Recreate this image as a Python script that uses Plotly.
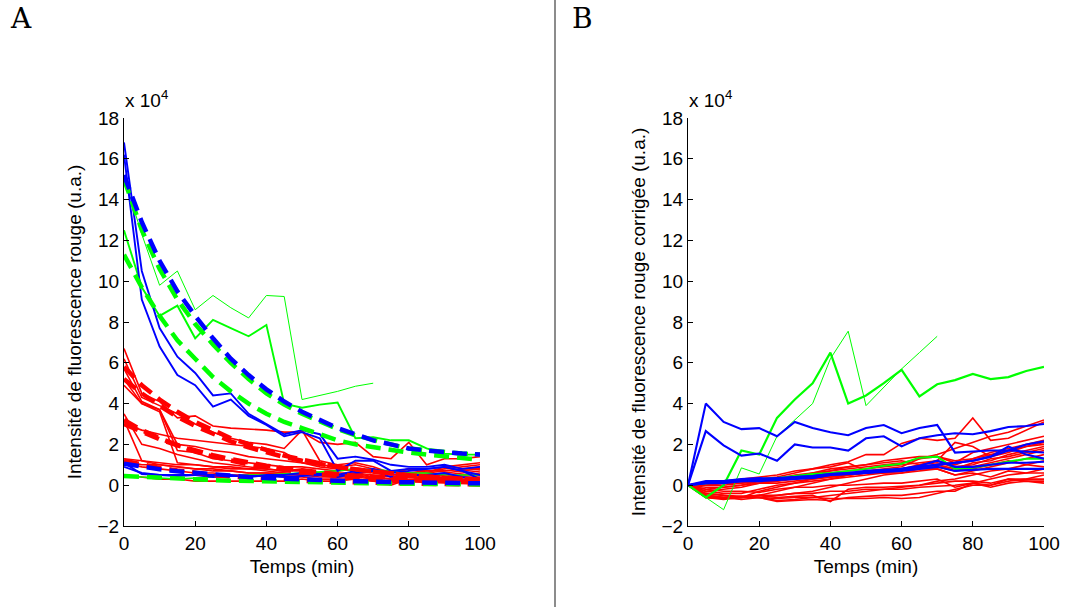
import plotly.graph_objects as go

t = [0, 5, 10, 15, 20, 25, 30, 35, 40, 45, 50, 55, 60, 65, 70, 75, 80, 85, 90, 95, 100]
t70 = t[:15]

# ---------------- Panel A (values in units of 1e4) ----------------
A_green_thin = [15.1, 12.3, 9.8, 10.5, 8.6, 9.3, 8.7, 8.2, 9.3, 9.25, 4.2, 4.4, 4.6, 4.85, 5.0]
A_green_thick = [12.5, 9.7, 8.3, 8.8, 7.2, 8.1, 7.7, 7.3, 7.85, 4.0, 3.8, 3.95, 4.05, 2.3, 2.35, 2.2, 2.2, 1.8, 1.55, 1.5, 1.5]
A_green_low = [0.5, 0.4, 0.35, 0.3, 0.35, 0.4, 0.45, 0.5, 0.5, 0.55, 0.6, 0.65, 0.7, 0.8, 0.75, 0.7, 0.6, 0.6, 0.5, 0.5, 0.5]

A_blue = [
    [16.8, 10.5, 7.7, 6.3, 5.5, 4.4, 4.5, 3.5, 3.0, 2.5, 2.7, 2.5, 1.3, 1.4, 1.25, 1.0, 0.9, 0.9, 1.0, 0.8, 0.9],
    [16.2, 9.1, 6.8, 5.4, 4.9, 3.85, 4.2, 3.4, 2.95, 2.4, 2.6, 2.3, 0.7, 1.2, 1.2, 0.7, 0.8, 0.8, 0.9, 0.7, 0.3],
    [1.1, 0.55, 0.5, 0.5, 0.5, 0.4, 0.45, 0.45, 0.45, 0.4, 0.45, 0.5, 0.4, 0.6, 0.7, 0.4, 0.5, 0.5, 0.6, 0.4, 0.3],
    [0.9, 0.6, 0.5, 0.45, 0.5, 0.5, 0.5, 0.4, 0.5, 0.5, 0.6, 0.55, 0.5, 0.7, 0.8, 0.6, 0.7, 0.8, 0.9, 0.7, 0.5],
]

A_red = [
    [6.7, 4.5, 4.1, 3.3, 3.4, 2.9, 2.8, 2.75, 2.7, 2.6, 2.6, 2.1, 2.0, 2.1, 1.4, 1.3, 2.1, 1.0, 1.3, 1.3, 1.4],
    [6.2, 4.3, 3.9, 3.5, 3.0, 2.6, 2.3, 2.1, 2.0, 1.8, 2.7, 1.2, 1.0, 1.1, 0.9, 0.6, 0.8, 0.6, 0.9, 1.0, 1.1],
    [5.7, 4.1, 3.7, 1.7, 1.6, 1.3, 1.2, 1.1, 1.0, 0.9, 0.9, 0.8, 0.7, 0.8, 0.7, 0.5, 0.6, 0.7, 0.7, 0.8, 0.9],
    [5.2, 4.0, 3.6, 1.1, 1.0, 0.9, 0.8, 0.8, 0.7, 0.6, 0.5, 0.5, 0.5, 0.6, 0.4, 0.3, 0.5, 0.4, 0.4, 0.5, 0.6],
    [4.9, 4.0, 3.7, 2.0, 1.9, 1.7, 1.6, 1.4, 1.3, 1.2, 1.1, 1.0, 0.9, 1.0, 0.8, 0.6, 0.8, 0.7, 0.8, 0.9, 1.0],
    [3.5, 2.0, 1.8, 1.5, 1.3, 1.1, 1.0, 0.9, 0.8, 0.7, 0.8, 0.6, 0.5, 0.5, 0.4, 0.3, 0.5, 0.4, 0.5, 0.6, 0.7],
    [3.2, 1.2, 1.0, 0.9, 0.8, 0.8, 0.7, 0.6, 0.6, 0.5, 0.5, 0.4, 0.4, 0.5, 0.3, 0.2, 0.4, 0.3, 0.4, 0.5, 0.5],
    [3.0, 2.7, 2.5, 2.3, 2.2, 2.1, 2.0, 1.9, 1.8, 1.6, 1.1, 0.9, 0.8, 0.7, 0.6, 0.5, 0.6, 0.6, 0.7, 0.8, 0.8],
    [1.3, 1.2, 1.1, 1.0, 1.0, 0.9, 0.9, 0.8, 0.8, 0.7, 0.7, 0.6, 0.6, 0.6, 0.5, 0.4, 0.5, 0.5, 0.6, 0.7, 0.8],
    [1.2, 1.0, 1.0, 0.9, 0.8, 0.7, 0.7, 0.6, 0.6, 0.6, 0.5, 0.5, 0.4, 0.4, 0.3, 0.0, 0.3, 0.3, 0.3, 0.4, 0.4],
    [1.1, 0.9, 0.8, 0.7, 0.6, 0.6, 0.5, 0.5, 0.5, 0.4, 0.4, 0.3, 0.3, 0.3, 0.2, 0.2, 0.2, 0.2, 0.2, 0.2, 0.1],
    [0.5, 0.4, 0.3, 0.3, 0.2, 0.2, 0.2, 0.2, 0.2, 0.2, 0.3, 0.2, 0.2, 0.3, 0.2, 0.1, 0.2, 0.2, 0.3, 0.3, 0.3],
]

A_red_fit = [
    [5.8, 4.9, 4.2, 3.6, 3.1, 2.7, 2.3, 2.0, 1.7, 1.45, 1.25, 1.05, 0.9, 0.78, 0.66, 0.57, 0.49, 0.42, 0.36, 0.31, 0.27],
    [5.2, 4.5, 3.9, 3.35, 2.9, 2.5, 2.15, 1.85, 1.6, 1.38, 1.2, 1.03, 0.89, 0.77, 0.66, 0.57, 0.49, 0.42, 0.36, 0.31, 0.27],
    [3.2, 2.7, 2.3, 1.95, 1.65, 1.4, 1.2, 1.02, 0.87, 0.74, 0.63, 0.53, 0.45, 0.38, 0.33, 0.28, 0.24, 0.2, 0.17, 0.15, 0.12],
    [3.0, 2.6, 2.25, 1.95, 1.7, 1.47, 1.28, 1.1, 0.96, 0.83, 0.72, 0.62, 0.54, 0.47, 0.41, 0.35, 0.31, 0.27, 0.23, 0.2, 0.17],
    [1.2, 1.0, 0.85, 0.72, 0.6, 0.5, 0.42, 0.36, 0.3, 0.25, 0.21, 0.18, 0.15, 0.13, 0.11, 0.09, 0.08, 0.07, 0.06, 0.05, 0.04],
]
A_green_fit = [
    [15.0, 12.5, 10.6, 9.1, 7.9, 6.9, 6.0, 5.2, 4.5, 3.95, 3.5, 3.1, 2.75, 2.45, 2.2, 2.0, 1.8, 1.7, 1.6, 1.55, 1.5],
    [11.3, 9.7, 8.3, 7.1, 6.2, 5.3, 4.6, 4.0, 3.5, 3.1, 2.8, 2.5, 2.2, 2.0, 1.85, 1.7, 1.6, 1.5, 1.4, 1.3, 1.25],
    [0.45, 0.4, 0.35, 0.31, 0.28, 0.25, 0.22, 0.2, 0.17, 0.15, 0.14, 0.12, 0.11, 0.1, 0.09, 0.08, 0.07, 0.06, 0.05, 0.05, 0.04],
]
A_blue_fit = [
    [15.2, 12.9, 11.0, 9.5, 8.3, 7.2, 6.2, 5.4, 4.7, 4.1, 3.6, 3.2, 2.8, 2.5, 2.2, 2.0, 1.8, 1.7, 1.6, 1.55, 1.5],
    [1.05, 0.9, 0.78, 0.68, 0.6, 0.52, 0.46, 0.4, 0.35, 0.31, 0.27, 0.24, 0.21, 0.19, 0.17, 0.15, 0.14, 0.12, 0.11, 0.1, 0.09],
]

# ---------------- Panel B (corrected, units of 1e4) ----------------
B_green_thin = [0, -0.6, -1.2, 0.85, 0.55, 2.4, 3.2, 4.0, 6.2, 7.55, 3.9, 4.8, 5.7, 6.5, 7.3]
B_green_thick = [0, -0.6, 0.0, 1.7, 1.5, 3.3, 4.2, 5.0, 6.5, 4.0, 4.4, 5.0, 5.65, 4.35, 4.95, 5.15, 5.45, 5.2, 5.3, 5.6, 5.8]
B_green_low = [0, 0.1, 0.15, 0.2, 0.3, 0.35, 0.45, 0.55, 0.6, 0.7, 0.8, 0.95, 1.05, 1.35, 1.4, 0.8, 0.85, 1.0, 1.15, 1.3, 1.3]

B_blue = [
    [0, 4.0, 3.1, 2.75, 2.8, 2.4, 3.1, 2.8, 2.6, 2.45, 2.8, 2.95, 2.55, 2.8, 2.95, 1.6, 1.65, 1.7, 1.7, 1.65, 1.6],
    [0, 2.65, 1.95, 1.45, 1.55, 1.2, 2.0, 1.85, 1.85, 1.7, 2.3, 2.4, 1.9, 2.3, 2.45, 2.55, 2.5, 2.65, 2.85, 2.9, 3.0],
    [0, 0.2, 0.2, 0.25, 0.3, 0.35, 0.4, 0.45, 0.55, 0.6, 0.7, 0.75, 0.8, 0.95, 1.2, 0.9, 0.9, 1.0, 1.1, 1.1, 1.15],
    [0, 0.15, 0.2, 0.3, 0.35, 0.3, 0.4, 0.35, 0.5, 0.55, 0.6, 0.7, 0.75, 0.9, 1.0, 1.1, 1.2, 1.4, 1.9, 1.5, 1.3],
    [0, 0.1, 0.15, 0.2, 0.25, 0.3, 0.4, 0.45, 0.55, 0.6, 0.65, 0.7, 0.8, 0.9, 1.0, 1.1, 1.2, 1.4, 1.7, 2.0, 2.15],
    [0, 0.1, 0.1, 0.2, 0.2, 0.25, 0.3, 0.35, 0.5, 0.55, 0.6, 0.65, 0.7, 0.8, 0.9, 0.7, 0.75, 0.8, 0.8, 0.8, 0.8],
]

B_red = [
    [0, 0.1, 0.2, 0.3, 0.4, 0.5, 0.7, 0.8, 1.0, 1.15, 1.5, 1.5, 2.05, 2.3, 2.2, 2.3, 3.3, 2.2, 2.3, 2.7, 3.1],
    [0, 0.0, 0.1, 0.2, 0.3, 0.4, 0.6, 0.8, 0.9, 1.1, 0.7, 0.8, 0.9, 1.3, 1.5, 1.8, 2.1, 2.4, 2.6, 2.9, 3.2],
    [0, -0.2, -0.1, 0.0, 0.2, 0.3, 0.5, 0.6, 0.7, 0.8, 0.9, 1.0, 1.1, 1.3, 1.4, 1.1, 1.6, 1.8, 2.0, 2.2, 2.4],
    [0, -0.3, -0.2, -0.1, 0.1, 0.2, 0.4, 0.5, 0.6, 0.7, 0.8, 0.9, 1.0, 1.1, 1.2, 1.0, 1.3, 1.5, 1.7, 1.9, 2.1],
    [0, -0.4, -0.5, -0.6, -0.3, -0.1, 0.1, 0.3, 0.4, 0.5, 0.6, 0.7, 0.8, 0.9, 1.0, 0.8, 1.1, 1.2, 1.5, 1.7, 1.9],
    [0, -0.5, -0.6, -0.6, -0.5, -0.3, -0.1, 0.1, 0.3, 0.5, 0.6, 0.7, 0.75, 0.85, 0.9, 0.7, 0.9, 1.1, 1.3, 1.5, 1.7],
    [0, -0.6, -0.6, -0.55, -0.6, -0.5, -0.4, -0.3, -0.1, 0.1, 0.3, 0.5, 0.6, 0.7, 0.8, 0.5, 0.7, 0.9, 1.1, 1.3, 1.5],
    [0, -0.5, -0.6, -0.6, -0.6, -0.75, -0.7, -0.6, -0.5, -0.4, -0.3, -0.2, -0.1, 0.0, 0.2, 0.3, 0.5, 0.7, 0.8, 1.0, 1.2],
    [0, -0.6, -0.65, -0.6, -0.6, -0.8, -0.75, -0.7, -0.75, -0.6, -0.55, -0.5, -0.5, -0.4, -0.3, -0.3, 0.1, 0.3, 0.5, 0.6, 0.8],
    [0, -0.5, -0.6, -0.7, -0.6, -0.65, -0.6, -0.6, -0.65, -0.65, -0.65, -0.6, -0.65, -0.6, -0.4, -0.2, 0.0, 0.0, 0.2, 0.3, 0.5],
    [0, -0.4, -0.5, -0.55, -0.5, -0.6, -0.55, -0.5, -0.8, -0.2, -0.1, -0.1, -0.05, 0.0, 0.1, 0.2, 0.2, 0.1, 0.3, 0.3, 0.3],
    [0, -0.2, -0.3, -0.3, -0.35, -0.2, -0.1, -0.1, 0.0, 0.0, 0.05, 0.1, 0.1, 0.2, 0.3, -0.1, 0.1, -0.1, 0.1, 0.2, 0.1],
    [0, 0.1, 0.1, 0.2, 0.3, 0.3, 0.4, 0.6, 0.8, 0.9, 1.0, 1.2, 1.3, 1.4, 1.4, 1.2, 1.3, 1.6, 1.8, 2.0, 2.2],
    [0, 0.0, 0.0, 0.1, 0.2, 0.2, 0.3, 0.4, 0.4, 0.5, 0.6, 0.7, 0.8, 1.0, 1.1, 0.9, 1.0, 1.3, 1.4, 1.6, 1.8],
    [0, -0.1, -0.1, 0.0, 0.1, 0.1, 0.2, 0.3, 0.4, 0.5, 0.6, 0.6, 0.7, 0.9, 1.0, 0.7, 0.8, 1.0, 1.2, 1.0, 0.9],
    [0, -0.3, -0.4, -0.4, -0.2, 0.0, 0.1, 0.2, 0.3, 0.4, 0.5, 0.6, 0.6, 0.8, 0.8, 0.5, 0.6, 0.4, 0.7, 0.6, 0.6],
    [0, -0.6, -0.7, -0.6, -0.5, -0.5, -0.4, -0.4, -0.3, -0.3, -0.2, -0.2, -0.2, -0.1, -0.05, 0.0, 0.1, 0.0, 0.3, 0.2, 0.2],
    [0, 0.0, 0.1, 0.1, 0.2, 0.3, 0.3, 0.5, 0.7, 0.9, 1.0, 1.1, 1.2, 1.0, 1.2, 2.1, 1.9, 1.4, 1.6, 1.9, 2.0],
]

y_ticks = [-2, 0, 2, 4, 6, 8, 10, 12, 14, 16, 18]
x_ticks = [0, 20, 40, 60, 80, 100]

RED, GREEN, BLUE = "#ff0000", "#00ff00", "#0000ff"
DASH = "15px,8px"

fig = go.Figure()

def add(x, y, color, width, axis, dash="solid"):
    xa, ya = ("x", "y") if axis == 1 else ("x2", "y2")
    fig.add_trace(go.Scatter(x=x, y=y, mode="lines", xaxis=xa, yaxis=ya,
                             line=dict(color=color, width=width, dash=dash),
                             showlegend=False, hoverinfo="skip"))

# Panel A
for s in A_red:
    add(t, s, RED, 1.6, 1)
add(t, A_green_low, GREEN, 1.6, 1)
add(t70, A_green_thin, GREEN, 1.0, 1)
add(t, A_green_thick, GREEN, 1.9, 1)
for s in A_blue:
    add(t, s, BLUE, 1.9, 1)
for s in A_red_fit:
    add(t, s, RED, 4.5, 1, DASH)
for s in A_green_fit:
    add(t, s, GREEN, 4.5, 1, DASH)
for s in A_blue_fit:
    add(t, s, BLUE, 4.5, 1, DASH)

# Panel B
for s in B_red:
    add(t, s, RED, 1.6, 2)
add(t, B_green_low, GREEN, 2.0, 2)
add(t70, B_green_thin, GREEN, 1.0, 2)
add(t, B_green_thick, GREEN, 2.2, 2)
for s in B_blue:
    add(t, s, BLUE, 2.1, 2)

W, H = 1065, 607
axis_font = dict(family="Liberation Sans, Arial, sans-serif", size=19, color="black")
common_x = dict(range=[0, 100], tickvals=x_ticks, ticks="inside", ticklen=5, tickcolor="black",
                showline=True, linecolor="black", linewidth=1, showgrid=False, zeroline=False,
                automargin=False, tickfont=axis_font,
                title=dict(text="Temps (min)", font=axis_font, standoff=6))
common_y = dict(range=[-2, 18], tickvals=y_ticks, ticktext=["\u22122"] + [str(v) for v in y_ticks[1:]],
                ticks="inside", ticklen=5, tickcolor="black", showline=True, linecolor="black",
                linewidth=1, showgrid=False, zeroline=False, automargin=False, tickfont=axis_font)

ydom = [1 - 526 / H, 1 - 118 / H]
serif = dict(family="DejaVu Serif, Liberation Serif, serif", size=28, color="black")
fig.update_layout(
    width=W, height=H, margin=dict(l=0, r=0, t=0, b=0, autoexpand=False),
    plot_bgcolor="white", paper_bgcolor="white",
    xaxis=dict(domain=[124 / W, 480 / W], anchor="y", **common_x),
    yaxis=dict(domain=ydom, anchor="x",
               title=dict(text="Intensité de fluorescence rouge (u.a.)", font=axis_font, standoff=10),
               **common_y),
    xaxis2=dict(domain=[688 / W, 1044 / W], anchor="y2", **common_x),
    yaxis2=dict(domain=ydom, anchor="x2",
                title=dict(text="Intensité de fluorescence rouge corrigée (u.a.)", font=axis_font, standoff=10),
                **common_y),
    shapes=[dict(type="line", xref="paper", yref="paper", x0=555 / W, x1=555 / W, y0=0, y1=1,
                 line=dict(color="#666666", width=1.5))],
    annotations=[
        dict(text="A", xref="paper", yref="paper", x=8 / W, y=1 - 18 / H, xanchor="left", yanchor="middle",
             showarrow=False, font=serif),
        dict(text="B", xref="paper", yref="paper", x=570 / W, y=1 - 18 / H, xanchor="left", yanchor="middle",
             showarrow=False, font=serif),
        dict(text="x 10<sup>4</sup>", xref="paper", yref="paper", x=123 / W, y=1 - 99 / H,
             xanchor="left", yanchor="middle", showarrow=False, font=axis_font),
        dict(text="x 10<sup>4</sup>", xref="paper", yref="paper", x=687 / W, y=1 - 99 / H,
             xanchor="left", yanchor="middle", showarrow=False, font=axis_font),
    ],
)

fig.write_html("out.html", config={"displayModeBar": False},
               post_script="document.body.style.margin='0';document.body.style.overflow='hidden';")
